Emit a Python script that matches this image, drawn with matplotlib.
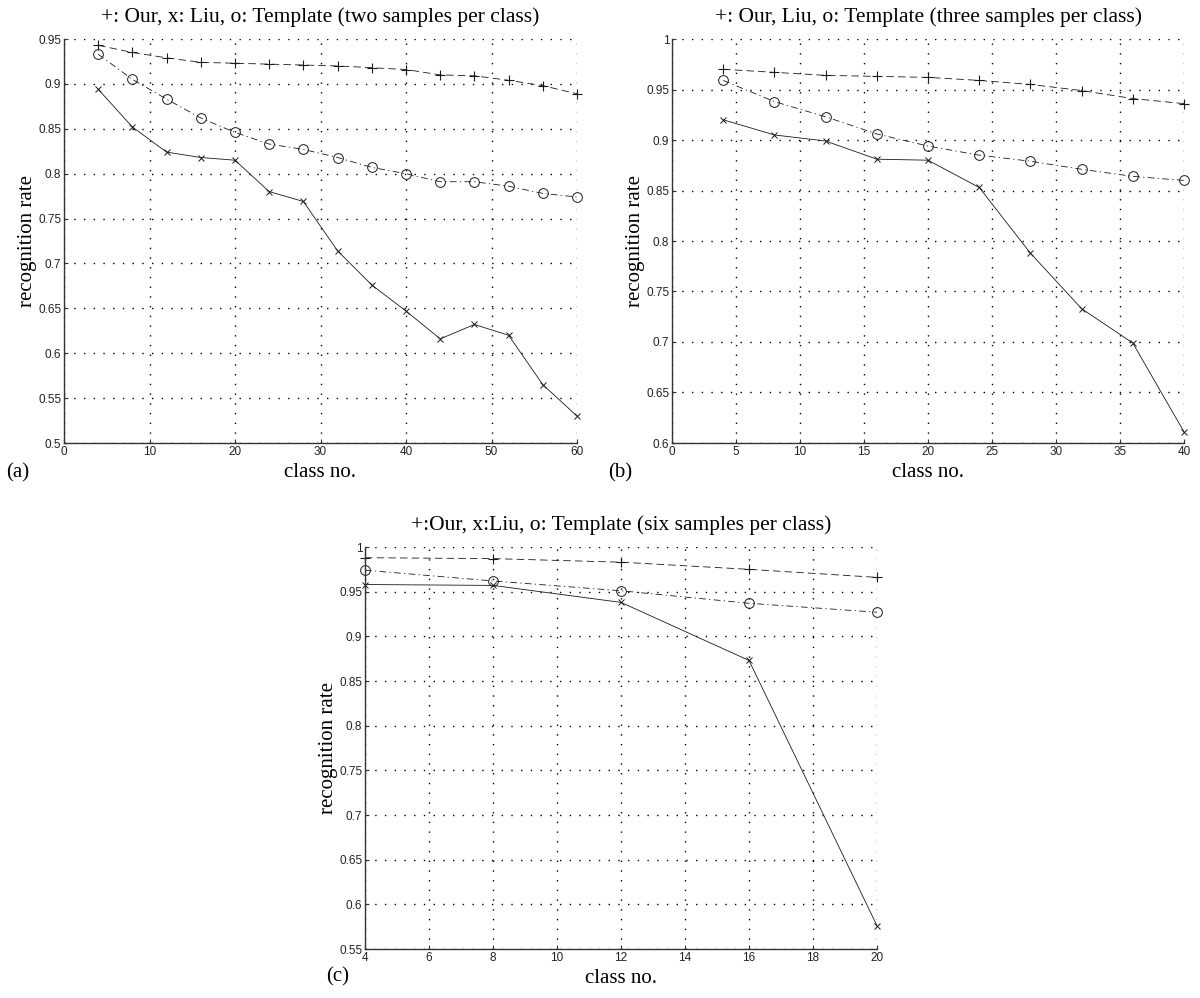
import matplotlib
matplotlib.use("Agg")
import matplotlib.pyplot as plt
import numpy as np
from matplotlib.ticker import FormatStrFormatter, FuncFormatter

# panel (a): two samples per class
x_a = [4, 8, 12, 16, 20, 24, 28, 32, 36, 40, 44, 48, 52, 56, 60]
our_a = [0.943, 0.935, 0.929, 0.924, 0.923, 0.922, 0.921, 0.920, 0.918, 0.916,
         0.910, 0.909, 0.904, 0.898, 0.889]
liu_a = [0.894, 0.852, 0.824, 0.818, 0.815, 0.780, 0.769, 0.714, 0.676, 0.647,
         0.616, 0.632, 0.620, 0.565, 0.530]
tpl_a = [0.933, 0.905, 0.883, 0.862, 0.846, 0.833, 0.827, 0.818, 0.807, 0.800,
         0.791, 0.791, 0.786, 0.778, 0.774]

# panel (b): three samples per class
x_b = [4, 8, 12, 16, 20, 24, 28, 32, 36, 40]
our_b = [0.970, 0.967, 0.964, 0.963, 0.962, 0.959, 0.955, 0.949, 0.941, 0.936]
liu_b = [0.920, 0.905, 0.899, 0.881, 0.880, 0.853, 0.788, 0.733, 0.699, 0.611]
tpl_b = [0.959, 0.938, 0.923, 0.906, 0.894, 0.885, 0.879, 0.871, 0.864, 0.860]

# panel (c): six samples per class
x_c = [4, 8, 12, 16, 20]
our_c = [0.988, 0.987, 0.983, 0.975, 0.966]
liu_c = [0.958, 0.957, 0.938, 0.873, 0.576]
tpl_c = [0.974, 0.962, 0.951, 0.937, 0.927]

titles = ["+: Our, x: Liu, o: Template (two samples per class)",
          "+: Our, Liu, o: Template (three samples per class)",
          "+:Our, x:Liu, o: Template (six samples per class)"]
panel_tags = ["(a)", "(b)", "(c)"]

SERIF = ["Liberation Serif", "DejaVu Serif"]
SANS = ["Liberation Sans", "DejaVu Sans"]

W, H = 1200, 998
fig = plt.figure(figsize=(W / 100, H / 100), dpi=100)


def px_axes(left, top, right, bottom):
    return fig.add_axes([left / W, 1 - bottom / H, (right - left) / W, (bottom - top) / H])


def draw_panel(ax, x, our, liu, tpl, xlim, xticks, ylim, yticks, title, tag, tag_xy):
    lc = "#1a1a1a"
    ax.plot(x, our, color=lc, lw=0.6, linestyle=(0, (9, 5)), marker="+",
            markersize=7, markeredgewidth=0.8, clip_on=False)
    ax.plot(x, liu, color=lc, lw=0.6, linestyle="-", marker="x",
            markersize=4.5, markeredgewidth=0.7, clip_on=False)
    ax.plot(x, tpl, color=lc, lw=0.6, linestyle=(0, (8, 4, 1.5, 4)), marker="o",
            markersize=7, markerfacecolor="none", markeredgewidth=0.7, clip_on=False)

    ax.set_xlim(*xlim)
    ax.set_ylim(*ylim)
    ax.set_xticks(xticks)
    ax.set_yticks(yticks)
    ax.xaxis.set_major_formatter(FuncFormatter(lambda v, p: "%g" % round(v, 3)))
    ax.yaxis.set_major_formatter(FuncFormatter(lambda v, p: "%g" % round(v, 3)))
    ax.grid(True, color="black", linestyle=(0, (1, 6)), linewidth=1.0)
    ax.set_axisbelow(True)

    for s in ["top", "right"]:
        ax.spines[s].set_visible(False)
    for s in ["left", "bottom"]:
        ax.spines[s].set_color("#333333")
        ax.spines[s].set_linewidth(1.0)

    ax.tick_params(direction="in", length=3, width=0.8, pad=2, labelsize=8.5,
                   colors="#333333", top=False, right=False)
    for lab in ax.get_xticklabels() + ax.get_yticklabels():
        lab.set_family(SANS)
        lab.set_color("#222222")

    ax.set_title(title, family=SERIF, fontsize=15.5, pad=12)
    ax.set_xlabel("class no.", family=SERIF, fontsize=15, labelpad=4)
    ax.set_ylabel("recognition rate", family=SERIF, fontsize=15)
    ax.yaxis.set_label_coords(-0.052, 0.5)
    fig.text(tag_xy[0] / W, 1 - tag_xy[1] / H, tag, family=SERIF, fontsize=15,
             ha="left", va="center")


ax_a = px_axes(64, 39, 577, 443)
draw_panel(ax_a, x_a, our_a, liu_a, tpl_a, (0, 60), np.arange(0, 61, 10),
           (0.5, 0.95), np.arange(0.5, 0.951, 0.05), titles[0], panel_tags[0], (6, 473))

ax_b = px_axes(672, 39, 1184, 443)
draw_panel(ax_b, x_b, our_b, liu_b, tpl_b, (0, 40), np.arange(0, 41, 5),
           (0.6, 1.0), np.arange(0.6, 1.001, 0.05), titles[1], panel_tags[1], (608, 473))

ax_c = px_axes(365, 547, 877, 949)
draw_panel(ax_c, x_c, our_c, liu_c, tpl_c, (4, 20), np.arange(4, 21, 2),
           (0.55, 1.0), np.arange(0.55, 1.001, 0.05), titles[2], panel_tags[2], (326, 977))

fig.savefig("out.png", dpi=100, facecolor="white")
